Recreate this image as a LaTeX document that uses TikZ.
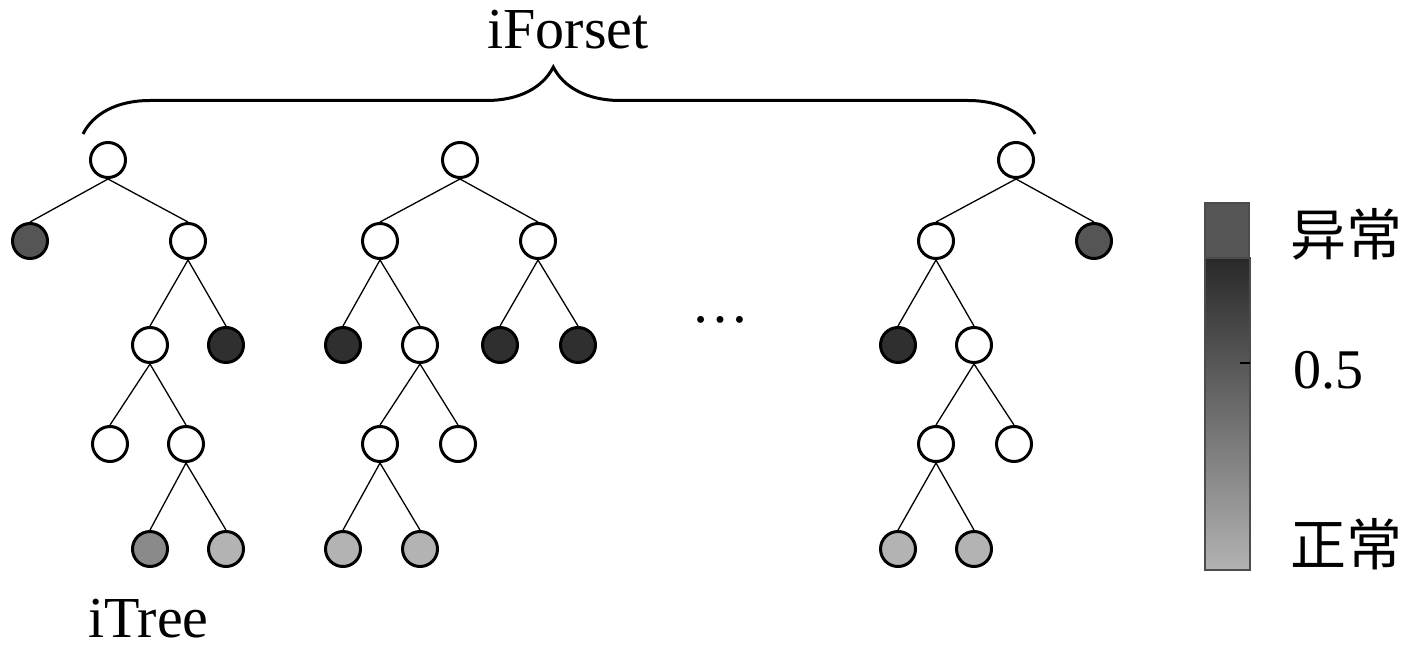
\documentclass[tikz,border=0pt]{standalone}
\usepackage{fontspec}
\setmainfont{Liberation Serif}
\newfontfamily\cjk{Noto Sans CJK SC}
\usetikzlibrary{decorations.pathreplacing}

\definecolor{anomgray}{HTML}{555555}
\definecolor{deepgray}{HTML}{2F2F2F}
\definecolor{midgray}{HTML}{8A8A8A}
\definecolor{normgray}{HTML}{B3B3B3}

\begin{document}
\begin{tikzpicture}[
    x=0.5pt, y=-0.5pt,
    every node/.style={font=\fontsize{29}{34}\selectfont},
    wnode/.style={circle, draw=black, line width=1.5pt, minimum size=17.5pt, inner sep=0pt, fill=white},
    anode/.style={wnode, fill=anomgray},
    dnode/.style={wnode, fill=deepgray},
    mnode/.style={wnode, fill=midgray},
    nnode/.style={wnode, fill=normgray},
    edge/.style={line width=0.65pt},
]
\useasboundingbox (0,0) rectangle (1417,658);

% === Tree 1 ===
\node[wnode] (a0) at (108,160) {};
\node[anode] (a1) at (30,241) {};
\node[wnode] (a2) at (188,241) {};
\node[wnode] (a3) at (150,345) {};
\node[dnode] (a4) at (226,345) {};
\node[wnode] (a5) at (110,444) {};
\node[wnode] (a6) at (186,444) {};
\node[mnode] (a7) at (150,549) {};
\node[nnode] (a8) at (226,549) {};
\foreach \p/\c in {a0/a1, a0/a2, a2/a3, a2/a4, a3/a5, a3/a6, a6/a7, a6/a8}
    \draw[edge] (\p.south) -- (\c.north);

% === Tree 2 ===
\node[wnode] (b0) at (460,160) {};
\node[wnode] (b1) at (380,241) {};
\node[wnode] (b2) at (538,241) {};
\node[dnode] (b3) at (343,345) {};
\node[wnode] (b4) at (420,345) {};
\node[dnode] (b5) at (500,345) {};
\node[dnode] (b6) at (578,345) {};
\node[wnode] (b7) at (380,444) {};
\node[wnode] (b8) at (458,444) {};
\node[nnode] (b9) at (343,549) {};
\node[nnode] (b10) at (420,549) {};
\foreach \p/\c in {b0/b1, b0/b2, b1/b3, b1/b4, b2/b5, b2/b6, b4/b7, b4/b8, b7/b9, b7/b10}
    \draw[edge] (\p.south) -- (\c.north);

% dots between trees
\node[anchor=base] (dots) at (720,322) {…};

% === Tree 3 ===
\node[wnode] (c0) at (1016,160) {};
\node[wnode] (c1) at (936,241) {};
\node[anode] (c2) at (1094,241) {};
\node[dnode] (c3) at (898,345) {};
\node[wnode] (c4) at (974,345) {};
\node[wnode] (c5) at (936,444) {};
\node[wnode] (c6) at (1014,444) {};
\node[nnode] (c7) at (898,549) {};
\node[nnode] (c8) at (974,549) {};
\foreach \p/\c in {c0/c1, c0/c2, c1/c3, c1/c4, c4/c5, c4/c6, c5/c7, c5/c8}
    \draw[edge] (\p.south) -- (\c.north);

% === Forest brace and labels ===
\coordinate (bl) at (83,134);
\coordinate (br) at (1035,134);
\draw[line width=1.5pt, decorate, decoration={brace, amplitude=33.5pt, aspect=0.494}]
    (bl) -- (br);
\node[anchor=base] (forest) at (568,49) {iForset};
\node[anchor=base west, inner sep=0pt] (tree) at (88,637) {iTree};

% === Score bar ===
\fill[anomgray, draw=black!70, line width=0.6pt] (1205,203) rectangle (1249,258);
\shade[top color=black!84, middle color=black!76, bottom color=black!30]
    (1205,258) rectangle (1250,570);
\draw[black!70, line width=0.6pt] (1205,258) rectangle (1250,570);
\draw[line width=0.6pt] (1240,363) -- (1250,363);
\node[font=\cjk\fontsize{28}{34}\selectfont] (high) at (1346,234) {异常};
\node[anchor=base west, inner sep=0pt, font=\fontsize{28}{34}\selectfont] (half) at (1293,388) {0.5};
\node[font=\cjk\fontsize{28}{34}\selectfont] (low) at (1346,544) {正常};

\end{tikzpicture}
\end{document}
